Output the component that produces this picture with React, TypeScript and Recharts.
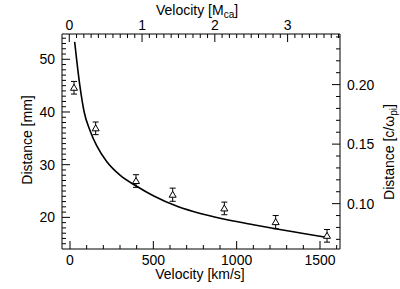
import React from 'react';
import { ComposedChart, Line, Scatter, XAxis, YAxis, ErrorBar } from 'recharts';

// Model curve
const curveVelocity = [28, 40, 60, 85, 120, 160, 220, 300, 400, 500, 650, 800, 950, 1100, 1250, 1400, 1540];
const curveDistance = [53.3, 49.9, 44.8, 40.0, 36.5, 33.6, 30.6, 28.0, 25.9, 24.1, 22.0, 20.6, 19.5, 18.6, 17.75, 16.95, 16.2];

// Measured points with error bars
const pointVelocity = [24, 154, 396, 616, 926, 1234, 1542];
const pointDistance = [44.6, 36.9, 26.9, 24.3, 21.7, 19.1, 16.5];
const pointError = [1.2, 1.2, 1.2, 1.25, 1.2, 1.25, 1.2];

// Secondary axes extents (Mach number / ion inertial length)
const machExtent = [-0.1, 3.72];
const inertialExtent = [0.0619, 0.2425];

// Tick labels
const bottomMajor = [0, 500, 1000, 1500];
const topMajor = [0, 1, 2, 3];
const leftMajor = [20, 30, 40, 50];
const rightMajor = [0.1, 0.15, 0.2];

const range = (a: number, b: number, s: number) => {
  const out: number[] = [];
  const n = Math.round((b - a) / s);
  for (let i = 0; i <= n; i++) out.push(+(a + i * s).toFixed(4));
  return out;
};
const bottomTicks = range(0, 1600, 100);
const topTicks = range(0, 3.7, 0.1);
const leftTicks = range(15, 54, 1);
const rightTicks = range(0.07, 0.24, 0.01);

const curveData = curveVelocity.map((v, i) => ({ v, d: curveDistance[i] }));
const pointData = pointVelocity.map((v, i) => ({ v, d: pointDistance[i], err: pointError[i] }));
const secondaryData = machExtent.map((m, i) => ({ m, r: inertialExtent[i] }));

const FONT = '"Liberation Sans", Arial, Helvetica, sans-serif';
const FS = 14;
const isMajor = (v: number, majors: number[]) => majors.some((m) => Math.abs(m - v) < 1e-6);

const BottomTick = (props: any) => {
  const { x, y, payload } = props;
  const major = isMajor(payload.value, bottomMajor);
  return (
    <g>
      <line x1={x} x2={x} y1={y} y2={y - (major ? 8 : 4)} stroke="#000" strokeWidth={1} />
      {major && (
        <text x={x} y={y + 16} textAnchor="middle" fontSize={FS} fontFamily={FONT} fill="#000">
          {payload.value}
        </text>
      )}
    </g>
  );
};

const TopTick = (props: any) => {
  const { x, y, payload } = props;
  const major = isMajor(payload.value, topMajor);
  return (
    <g>
      <line x1={x} x2={x} y1={y} y2={y + (major ? 8 : 4)} stroke="#000" strokeWidth={1} />
      {major && (
        <text x={x} y={y - 4} textAnchor="middle" fontSize={FS} fontFamily={FONT} fill="#000">
          {Math.round(payload.value)}
        </text>
      )}
    </g>
  );
};

const LeftTick = (props: any) => {
  const { x, y, payload } = props;
  const major = isMajor(payload.value, leftMajor);
  return (
    <g>
      <line x1={x} x2={x + (major ? 8 : 4)} y1={y} y2={y} stroke="#000" strokeWidth={1} />
      {major && (
        <text x={x - 7} y={y + 5} textAnchor="end" fontSize={FS} fontFamily={FONT} fill="#000">
          {payload.value}
        </text>
      )}
    </g>
  );
};

const RightTick = (props: any) => {
  const { x, y, payload } = props;
  const major = isMajor(payload.value, rightMajor);
  return (
    <g>
      <line x1={x} x2={x - (major ? 8 : 4)} y1={y} y2={y} stroke="#000" strokeWidth={1} />
      {major && (
        <text x={x + 7} y={y + 5} textAnchor="start" fontSize={FS} fontFamily={FONT} fill="#000">
          {Number(payload.value).toFixed(2)}
        </text>
      )}
    </g>
  );
};

const Triangle = (props: any) => {
  const { cx, cy } = props;
  if (cx == null || cy == null) return null;
  return (
    <path
      d={`M${cx},${cy - 3.5} L${cx + 3.5},${cy + 2.5} L${cx - 3.5},${cy + 2.5} Z`}
      fill="#fff"
      stroke="#000"
      strokeWidth={1}
    />
  );
};

export default function App() {
  return (
    <div style={{ position: 'absolute', left: 0, top: 0, width: 400, height: 289, background: '#fff' }}>
      <ComposedChart width={400} height={289} margin={{ top: 0, right: 0, bottom: 0, left: 0 }}>
        <XAxis
          xAxisId="bottom"
          dataKey="v"
          type="number"
          orientation="bottom"
          height={40}
          domain={[-48, 1620]}
          allowDataOverflow
          ticks={bottomTicks}
          interval={0}
          tickSize={0}
          tickMargin={0}
          tickLine={false}
          axisLine={{ stroke: '#000', strokeWidth: 1 }}
          tick={<BottomTick />}
        />
        <XAxis
          xAxisId="top"
          dataKey="m"
          type="number"
          orientation="top"
          height={34}
          domain={machExtent}
          allowDataOverflow
          ticks={topTicks}
          interval={0}
          tickSize={0}
          tickMargin={0}
          tickLine={false}
          axisLine={{ stroke: '#000', strokeWidth: 1 }}
          tick={<TopTick />}
        />
        <YAxis
          yAxisId="left"
          dataKey="d"
          type="number"
          orientation="left"
          width={62}
          domain={[14, 54.8]}
          allowDataOverflow
          ticks={leftTicks}
          interval={0}
          tickSize={0}
          tickMargin={0}
          tickLine={false}
          axisLine={{ stroke: '#000', strokeWidth: 1 }}
          tick={<LeftTick />}
        />
        <YAxis
          yAxisId="right"
          type="number"
          orientation="right"
          width={60}
          domain={inertialExtent}
          allowDataOverflow
          ticks={rightTicks}
          interval={0}
          tickSize={0}
          tickMargin={0}
          tickLine={false}
          axisLine={{ stroke: '#000', strokeWidth: 1 }}
          tick={<RightTick />}
        />
        <Line
          xAxisId="top"
          yAxisId="right"
          data={secondaryData}
          dataKey="r"
          stroke="none"
          dot={false}
          activeDot={false}
          isAnimationActive={false}
        />
        <Line
          xAxisId="bottom"
          yAxisId="left"
          data={curveData}
          dataKey="d"
          type="monotone"
          stroke="#000"
          strokeWidth={1.6}
          dot={false}
          activeDot={false}
          isAnimationActive={false}
        />
        <Scatter
          xAxisId="bottom"
          yAxisId="left"
          data={pointData}
          dataKey="d"
          shape={<Triangle />}
          isAnimationActive={false}
        >
          <ErrorBar dataKey="err" direction="y" width={3} stroke="#000" strokeWidth={1} />
        </Scatter>
      </ComposedChart>
      <svg
        width={400}
        height={289}
        style={{ position: 'absolute', left: 0, top: 0, pointerEvents: 'none' }}
        fontFamily={FONT}
        fontSize={FS}
        fill="#000"
      >
        <text x={200} y={279} textAnchor="middle">Velocity [km/s]</text>
        <text x={197} y={15} textAnchor="middle">
          Velocity [M<tspan fontSize={10} dy={3}>ca</tspan>
          <tspan dy={-3}>]</tspan>
        </text>
        <text transform="translate(31.5,140) rotate(-90)" textAnchor="middle">Distance [mm]</text>
        <text transform="translate(393.5,152) rotate(-90)" textAnchor="middle">
          Distance [c/ω<tspan fontSize={10} dy={3}>pi</tspan>
          <tspan dy={-3}>]</tspan>
        </text>
      </svg>
    </div>
  );
}
